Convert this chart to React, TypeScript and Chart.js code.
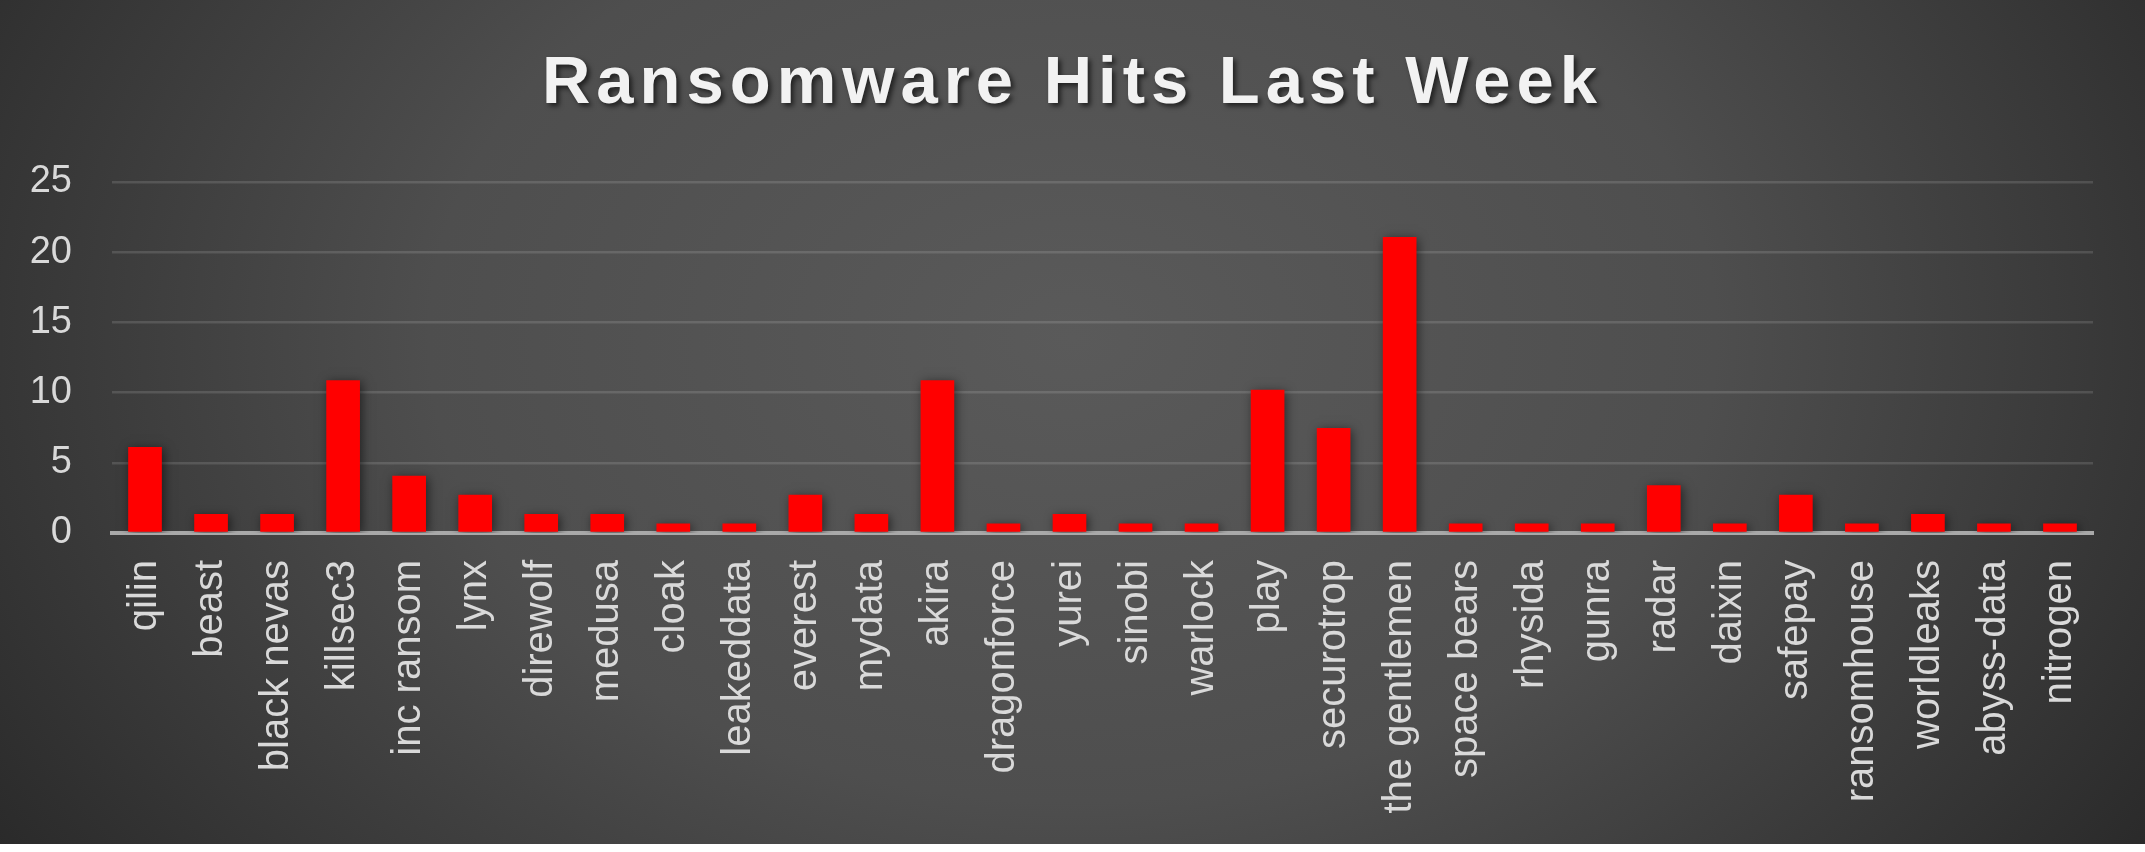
import React, { useEffect, useRef } from 'react';
import { Chart, registerables } from 'chart.js';

Chart.register(...registerables);

// groups shown on the x axis, left to right
const groups = [
  'qilin', 'beast', 'black nevas', 'killsec3', 'inc ransom', 'lynx', 'direwolf', 'medusa',
  'cloak', 'leakeddata', 'everest', 'mydata', 'akira', 'dragonforce', 'yurei', 'sinobi',
  'warlock', 'play', 'securotrop', 'the gentlemen', 'space bears', 'rhysida', 'gunra',
  'radar', 'daixin', 'safepay', 'ransomhouse', 'worldleaks', 'abyss-data', 'nitrogen',
];

// share of last week's hits (%)
const hitShare = [
  6.12, 1.36, 1.36, 10.88, 4.08, 2.72, 1.36, 1.36,
  0.68, 0.68, 2.72, 1.36, 10.88, 0.68, 1.36, 0.68,
  0.68, 10.2, 7.48, 21.09, 0.68, 0.68, 0.68,
  3.4, 0.68, 2.72, 0.68, 1.36, 0.68, 0.68,
];

const yMin = 0;
const yMax = 25;
const yStep = 5;

const W = 2145;
const H = 844;
const labelFont = "'Liberation Sans', Arial, sans-serif";

// soft dark shadow behind each bar, like the office chart style
const barShadow = {
  id: 'barShadow',
  beforeDatasetsDraw(chart: Chart) {
    const c = chart.ctx;
    c.save();
    c.shadowColor = 'rgba(0,0,0,0.55)';
    c.shadowBlur = 10;
    c.shadowOffsetX = 2;
    c.shadowOffsetY = 2;
  },
  afterDatasetsDraw(chart: Chart) {
    chart.ctx.restore();
  },
};

const App: React.FC = () => {
  const canvasRef = useRef<HTMLCanvasElement>(null);

  useEffect(() => {
    document.body.style.margin = '0';
    const ctx = canvasRef.current?.getContext('2d');
    if (!ctx) return;

    const chart = new Chart(ctx, {
      type: 'bar',
      data: {
        labels: groups,
        datasets: [
          {
            label: 'Hits',
            data: hitShare,
            backgroundColor: '#ff0000',
            borderWidth: 0,
            categoryPercentage: 1,
            barPercentage: 0.51,
          },
        ],
      },
      plugins: [barShadow],
      options: {
        animation: false,
        responsive: true,
        maintainAspectRatio: false,
        layout: { padding: { top: 182, right: 52, bottom: 0, left: 0 } },
        plugins: {
          legend: { display: false },
          title: { display: false },
          tooltip: { enabled: false },
        },
        scales: {
          x: {
            z: 1,
            grid: { display: false, drawTicks: false },
            border: { display: true, color: '#a9a9a9', width: 4 },
            ticks: {
              color: '#d9d9d9',
              font: { family: labelFont, size: 40 },
              minRotation: 90,
              maxRotation: 90,
              padding: 27,
              autoSkip: false,
            },
            afterFit(scale: any) {
              scale.height = H - 533;
            },
          },
          y: {
            min: yMin,
            max: yMax,
            grid: { color: 'rgba(255,255,255,0.13)', lineWidth: 2.5, drawTicks: false },
            border: { display: false },
            ticks: {
              stepSize: yStep,
              color: '#d9d9d9',
              font: { family: labelFont, size: 38 },
              padding: 40,
            },
            afterFit(scale: any) {
              scale.width = 112;
            },
          },
        },
      },
    });

    return () => {
      chart.destroy();
    };
  }, []);

  return (
    <div
      style={{
        position: 'relative',
        width: W,
        height: H,
        background:
          'radial-gradient(ellipse 60% 110% at 50% 40%, #5a5a5a 0%, #4e4e4e 50%, #2a2a2a 100%)',
      }}
    >
      <div
        style={{
          position: 'absolute',
          top: 46,
          left: 0,
          width: W,
          textAlign: 'center',
          fontFamily: labelFont,
          fontWeight: 'bold',
          fontSize: 67,
          lineHeight: '67px',
          letterSpacing: '6px',
          color: '#f2f2f2',
          textShadow: '3px 3px 5px rgba(0,0,0,0.6)',
        }}
      >
        Ransomware Hits Last Week
      </div>
      <div style={{ position: 'absolute', inset: 0 }}>
        <canvas ref={canvasRef} />
      </div>
    </div>
  );
};

export default App;
